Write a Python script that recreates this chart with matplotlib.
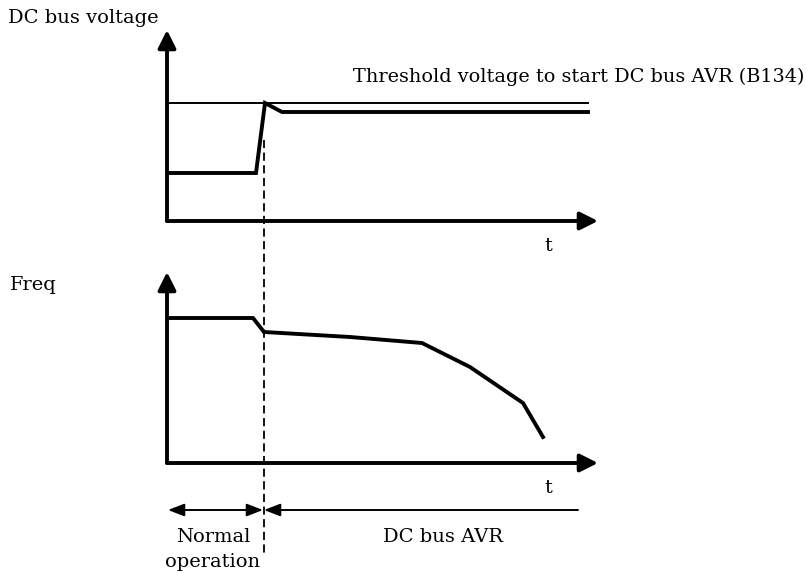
import matplotlib
matplotlib.use("Agg")
import matplotlib.pyplot as plt
from matplotlib.transforms import blended_transform_factory

plt.rcParams['font.family'] = 'DejaVu Serif'

# time axis shared by both panels (arbitrary units)
t_max = 43.1
y_max = 19.1

# DC bus voltage panel
volt_t = [0.1, 8.9, 9.8, 11.5, 42.1]
volt_v = [4.8, 4.8, 11.8, 10.9, 10.9]
threshold = 11.8
thr_t = [0.0, 42.1]

# output frequency panel
freq_t = [0.3, 8.6, 9.7, 18.3, 25.5, 30.3, 35.6, 37.6]
freq_v = [14.5, 14.5, 13.1, 12.6, 12.0, 9.6, 6.0, 2.6]

t_switch = 9.65   # start of DC bus AVR
t_end_avr = 41.1

W, H = 806, 573
fig = plt.figure(figsize=(W / 100, H / 100), dpi=100)

ax1 = fig.add_axes([167 / W, 1 - 221 / H, 431 / W, 191 / H])
ax2 = fig.add_axes([167 / W, 1 - 463 / H, 431 / W, 191 / H])

axis_arrow = dict(arrowstyle='-|>,head_length=0.6,head_width=0.3',
                  lw=2.8, color='black', shrinkA=0, shrinkB=0,
                  mutation_scale=18)

for ax in (ax1, ax2):
    ax.set_xlim(0, t_max)
    ax.set_ylim(0, y_max)
    ax.axis('off')
    ax.annotate('', xy=(0, y_max), xytext=(0, 0), arrowprops=axis_arrow,
                annotation_clip=False)
    ax.annotate('', xy=(t_max, 0), xytext=(0, 0), arrowprops=axis_arrow,
                annotation_clip=False)

ax1.plot(thr_t, [threshold, threshold], color='black', lw=1.4)
ax1.plot(volt_t, volt_v, color='black', lw=2.8, solid_joinstyle='miter')
ax2.plot(freq_t, freq_v, color='black', lw=2.8, solid_joinstyle='miter')

# dashed marker + range arrows, x in time units, y in figure fraction
tr = blended_transform_factory(ax2.transData, fig.transFigure)
fig.add_artist(plt.Line2D([t_switch, t_switch], [1 - 140 / H, 1 - 553 / H],
                          transform=tr, color='black', lw=1.3,
                          linestyle=(0, (4.5, 2.5))))

y_arr = 1 - 510 / H
range_arrow = dict(arrowstyle='<|-|>,head_length=0.7,head_width=0.27',
                   lw=1.4, color='black', shrinkA=0, shrinkB=0,
                   mutation_scale=14)
ax2.annotate('', xy=(0.1, y_arr), xytext=(t_switch - 0.05, y_arr),
             xycoords=tr, textcoords=tr, arrowprops=range_arrow,
             annotation_clip=False)
ax2.annotate('', xy=(t_switch + 0.05, y_arr), xytext=(t_end_avr, y_arr),
             xycoords=tr, textcoords=tr,
             arrowprops=dict(range_arrow,
                             arrowstyle='-|>,head_length=0.7,head_width=0.27'),
             annotation_clip=False)

fs = 14
fig.text(8 / W, 1 - 18 / H, 'DC bus voltage', fontsize=fs, va='center')
fig.text(10 / W, 1 - 285 / H, 'Freq', fontsize=fs, va='center')
fig.text(804 / W, 1 - 77 / H, 'Threshold voltage to start DC bus AVR (B134)',
         fontsize=13.9, ha='right', va='center')
fig.text(548 / W, 1 - 246 / H, 't', fontsize=fs, ha='center', va='center')
fig.text(548 / W, 1 - 488 / H, 't', fontsize=fs, ha='center', va='center')
fig.text(213 / W, 1 - 537 / H, 'Normal', fontsize=fs, ha='center', va='center')
fig.text(213 / W, 1 - 562 / H, 'operation', fontsize=fs, ha='center', va='center')
fig.text(443 / W, 1 - 537 / H, 'DC bus AVR', fontsize=fs, ha='center', va='center')

fig.savefig('out.png', dpi=100)
